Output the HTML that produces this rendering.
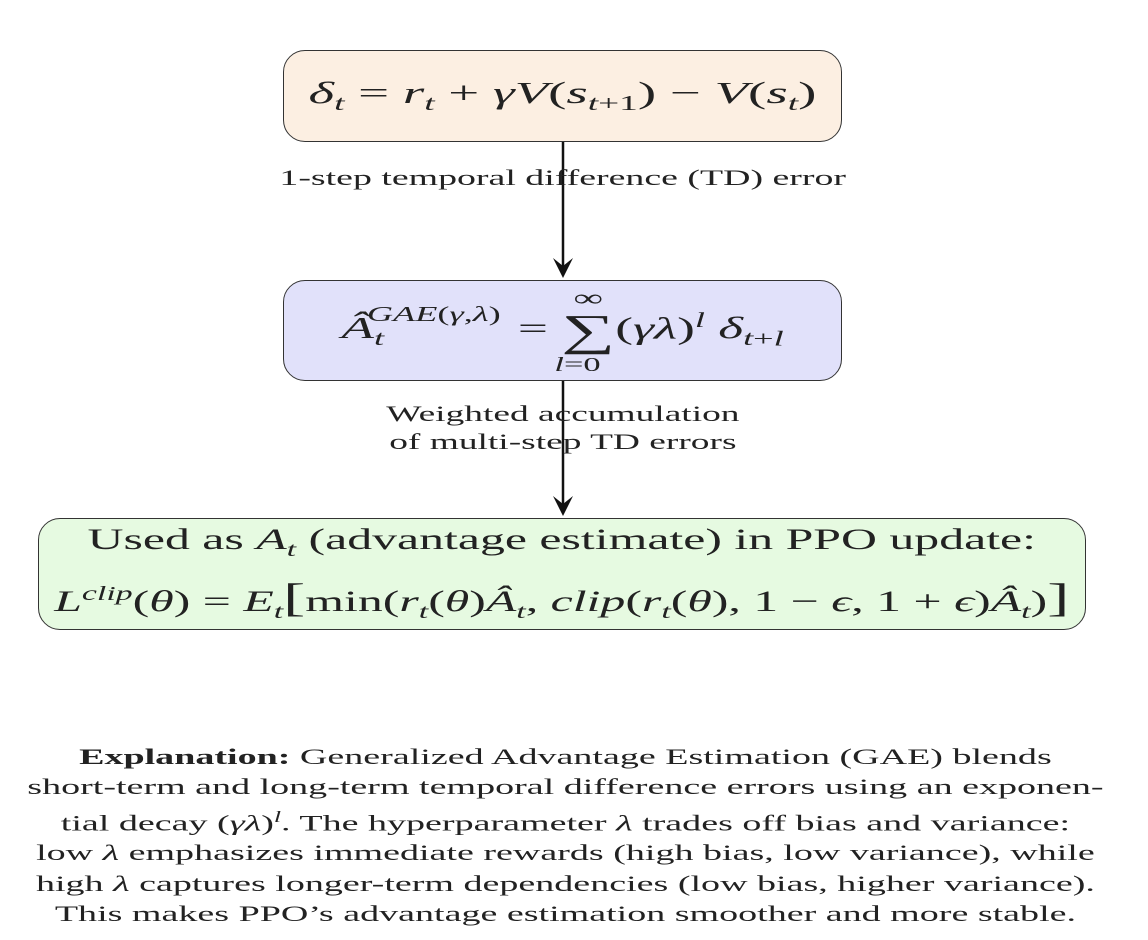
<!DOCTYPE html>
<html><head><meta charset="utf-8"><style>
body{margin:0;width:1148px;height:940px;background:#fff;position:relative;font-family:"Liberation Serif",serif;color:#222;overflow:hidden}
.box{position:absolute;border:1.5px solid #333;border-radius:22px;box-sizing:border-box;display:flex;align-items:center;justify-content:center;text-align:center}
.t{position:absolute;text-align:center;white-space:nowrap}
.s{display:inline-block;transform-origin:center}
i{font-style:italic}
sub,sup{font-size:0.68em}
</style></head><body>
<svg style="position:absolute;left:0;top:0" width="1148" height="940">
<line x1="563" y1="142" x2="563" y2="268" stroke="#111" stroke-width="2.5"/>
<polygon points="553,258 563,278 573,258 563,266" fill="#111"/>
<line x1="563" y1="381" x2="563" y2="506" stroke="#111" stroke-width="2.5"/>
<polygon points="553,496 563,516 573,496 563,504" fill="#111"/>
</svg>
<div class="box" style="left:283px;top:50px;width:559px;height:92px;background:#fcefe2;font-size:31px"><span class="s" style="transform:scaleX(1.77)"><i>δ<sub>t</sub></i> = <i>r<sub>t</sub></i> + <i>γV</i>(<i>s<sub>t</sub></i><sub>+1</sub>) − <i>V</i>(<i>s<sub>t</sub></i>)</span></div>
<div class="t" style="left:0;width:1126px;top:165px;font-size:22px"><span class="s" style="transform:scaleX(1.72)">1-step temporal difference (TD) error</span></div>
<div class="box" style="left:283px;top:280px;width:559px;height:101px;background:#e1e1fa;font-size:31px"><span class="s" style="transform:scaleX(1.72)"><i>Â<sub>t</sub></i><sup style="position:relative;left:-10px;top:-6px"><i>GAE</i>(<i>γ</i>,<i>λ</i>)</sup>= <span style="display:inline-block;vertical-align:middle;line-height:1;font-size:44px;position:relative">∑<span style="position:absolute;left:0;right:0;top:-22px;font-size:24px">∞</span><span style="position:absolute;left:-4px;top:46px;font-size:20px"><i>l</i>=0</span></span>(<i>γλ</i>)<sup><i>l</i></sup> <i>δ<sub>t</sub></i><sub>+<i>l</i></sub></span></div>
<div class="t" style="left:0;width:1126px;top:400px;font-size:22px;line-height:28px"><span class="s" style="transform:scaleX(1.7)">Weighted accumulation<br>of multi-step TD errors</span></div>
<div class="box" style="left:38px;top:518px;width:1048px;height:112px;background:#e6fae1;font-size:30px;line-height:44px"><span class="s" style="transform:scaleX(1.66);position:relative;top:2px">Used as <i>A<sub>t</sub></i> (advantage estimate) in PPO update:<br><i>L<sup>clip</sup></i>(<i>θ</i>) = <i>E<sub>t</sub></i><span style="font-size:40px;line-height:30px">[</span>min(<i>r<sub>t</sub></i>(<i>θ</i>)<i>Â<sub>t</sub></i>, <i>clip</i>(<i>r<sub>t</sub></i>(<i>θ</i>), 1 − <i>ϵ</i>, 1 + <i>ϵ</i>)<i>Â<sub>t</sub></i>)<span style="font-size:40px;line-height:30px">]</span></span></div>
<div class="t" style="left:0;width:1130px;top:742px;font-size:22.5px;line-height:30.3px"><span class="s" style="transform:scaleX(1.69)"><b>Explanation:</b> Generalized Advantage Estimation (GAE) blends<br>short-term and long-term temporal difference errors using an exponen-<br>tial decay (<i>γλ</i>)<sup><i>l</i></sup>. The hyperparameter <i>λ</i> trades off bias and variance:<br>low <i>λ</i> emphasizes immediate rewards (high bias, low variance), while<br>high <i>λ</i> captures longer-term dependencies (low bias, higher variance).<br>This makes PPO’s advantage estimation smoother and more stable.</span></div>
</body></html>
